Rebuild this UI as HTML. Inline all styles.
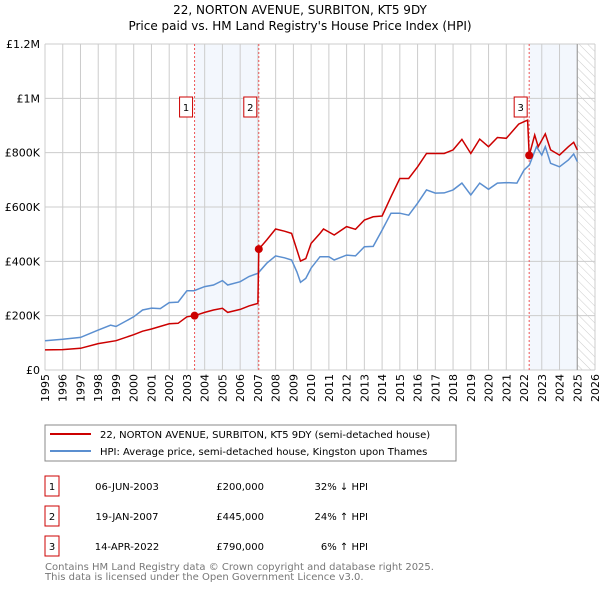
<!DOCTYPE html>
<html><head><meta charset="utf-8"><style>
body{margin:0;background:#fff;font-family:"DejaVu Sans","Liberation Sans",sans-serif}
svg text{font-family:"DejaVu Sans","Liberation Sans",sans-serif}
</style></head><body>
<svg id="c" width="600" height="590" xmlns="http://www.w3.org/2000/svg">
<defs><pattern id="hatch" width="6" height="6" patternUnits="userSpaceOnUse" patternTransform="rotate(-45)"><line x1="0" y1="0" x2="0" y2="6" stroke="#ccc" stroke-width="1"/></pattern></defs>
<text x="300" y="14" text-anchor="middle" font-size="12">22, NORTON AVENUE, SURBITON, KT5 9DY</text>
<text x="300" y="30" text-anchor="middle" font-size="12">Price paid vs. HM Land Registry's House Price Index (HPI)</text>
<g id="bg"></g><g id="grid"></g><g id="series"></g><g id="axes"></g>
<rect x="45" y="425" width="411" height="36" fill="#fff" stroke="#888"/>
<line x1="50" y1="434" x2="91" y2="434" stroke="#cc0000" stroke-width="2"/>
<text x="100" y="438" font-size="10">22, NORTON AVENUE, SURBITON, KT5 9DY (semi-detached house)</text>
<line x1="50" y1="451" x2="91" y2="451" stroke="#5b8fd0" stroke-width="2"/>
<text x="100" y="455" font-size="10">HPI: Average price, semi-detached house, Kingston upon Thames</text>
<g id="table" font-size="10"></g>
<text x="45" y="570" font-size="10" fill="#777">Contains HM Land Registry data © Crown copyright and database right 2025.</text>
<text x="45" y="580" font-size="10" fill="#777">This data is licensed under the Open Government Licence v3.0.</text>
</svg>
<script>
const hpiYears=[1995,1996,1997,1998,1998.7,1999,2000,2000.5,2001,2001.5,2002,2002.5,2003,2003.4,2004,2004.5,2005,2005.3,2006,2006.5,2007,2007.5,2008,2008.5,2008.9,2009.2,2009.4,2009.7,2010,2010.5,2011,2011.3,2012,2012.5,2013,2013.5,2014,2014.5,2015,2015.5,2016,2016.5,2017,2017.5,2018,2018.5,2019,2019.5,2020,2020.5,2021,2021.6,2022,2022.3,2022.7,2023,2023.2,2023.5,2024,2024.5,2024.8,2025];
const hpiValues=[108,113,120,147,165,160,196,221,228,226,248,250,292,292,307,313,329,313,325,344,356,393,420,413,405,361,323,337,375,417,417,405,423,420,454,455,515,577,577,570,614,663,651,652,663,688,644,688,665,688,690,688,736,755,822,791,822,761,748,773,795,767];
const priceYears=[1995,1996,1997,1998,1999,2000,2000.5,2001,2002,2002.5,2003,2003.43,2004,2004.5,2005,2005.3,2006,2006.5,2007,2007.05,2007.5,2008,2008.5,2008.9,2009.2,2009.4,2009.7,2010,2010.5,2010.7,2011.3,2012,2012.5,2013,2013.5,2014,2014.5,2015,2015.5,2016,2016.5,2017,2017.5,2018,2018.5,2019,2019.5,2020,2020.5,2021,2021.7,2022,2022.2,2022.29,2022.6,2022.8,2023.2,2023.5,2024,2024.5,2024.8,2025];
const priceValues=[74,75,80,97,108,130,143,151,170,172,196,200,212,221,227,212,223,236,245,445,479,519,511,503,442,401,410,466,503,519,497,528,518,552,564,567,638,705,705,748,797,797,797,810,849,797,850,822,856,853,905,914,920,790,865,822,869,810,791,822,838,810];
const saleYears=[2003.43,2007.05,2022.29];
const saleValues=[200,445,790];
const saleLabels=["1","2","3"];
const saleDates=["06-JUN-2003","19-JAN-2007","14-APR-2022"];
const salePrices=["£200,000","£445,000","£790,000"];
const saleDiffs=["32% ↓ HPI","24% ↑ HPI","6% ↑ HPI"];
const yTicks=[0,200,400,600,800,1000,1200];
const yTickLabels=["£0","£200K","£400K","£600K","£800K","£1M","£1.2M"];
const xTicks=[];for(let y=1995;y<=2026;y++)xTicks.push(y);
const NS="http://www.w3.org/2000/svg";
const X0=45,X1=595,Y0=370,Y1=44;
const sx=v=>X0+(v-1995)/(2026-1995)*(X1-X0);
const sy=v=>Y0-v/1200*(Y0-Y1);
function mk(tag,attrs,parent){const e=document.createElementNS(NS,tag);for(const k in attrs)e.setAttribute(k,attrs[k]);parent.appendChild(e);return e;}
const bg=document.getElementById('bg'),grid=document.getElementById('grid'),ser=document.getElementById('series'),ax=document.getElementById('axes'),tb=document.getElementById('table');
let r=mk('rect',{x:sx(saleYears[0]),y:Y1,width:sx(saleYears[1])-sx(saleYears[0]),height:Y0-Y1,fill:'#eef3fc',opacity:0.7},bg);


r=mk('rect',{x:sx(saleYears[2]),y:Y1,width:sx(2025)-sx(saleYears[2]),height:Y0-Y1,fill:'#eef3fc',opacity:0.7},bg);


r=mk('rect',{x:sx(2025),y:Y1,width:X1-sx(2025),height:Y0-Y1,fill:'url(#hatch)'},bg);


xTicks.forEach(t=>{const l=mk('line',{x1:sx(t),x2:sx(t),y1:Y1,y2:Y0,stroke:'#ccc'},grid);


const tx=mk('text',{x:0,y:0,'font-size':11,'text-anchor':'end',transform:`translate(${sx(t)+4},${Y0+4}) rotate(-90)`},ax);tx.textContent=t;

});
yTicks.forEach((t,i)=>{const l=mk('line',{x1:X0,x2:X1,y1:sy(t),y2:sy(t),stroke:'#ccc'},grid);


const tx=mk('text',{x:40,y:sy(t)+4,'font-size':11,'text-anchor':'end'},ax);tx.textContent=yTickLabels[i];

});
let l=mk('line',{x1:sx(2025),x2:sx(2025),y1:Y1,y2:Y0,stroke:'#999'},grid);


saleYears.forEach((y,i)=>{const v=mk('line',{x1:sx(y),x2:sx(y),y1:Y1,y2:Y0,stroke:'#e55','stroke-dasharray':'2,2'},grid);


const b=mk('rect',{x:sx(y)-15,y:97,width:13,height:20,fill:'#fff',stroke:'#c00'},ax);


const t=mk('text',{x:sx(y)-8.5,y:111,'font-size':10,'text-anchor':'middle'},ax);t.textContent=saleLabels[i];

});
const path=(xs,vs)=>xs.map((x,i)=>(i?'L':'M')+sx(x).toFixed(1)+','+sy(vs[i]).toFixed(1)).join('');
let p=mk('path',{d:path(hpiYears,hpiValues),fill:'none',stroke:'#5b8fd0','stroke-width':1.5},ser);


p=mk('path',{d:path(priceYears,priceValues),fill:'none',stroke:'#cc0000','stroke-width':1.5},ser);


saleYears.forEach((y,i)=>{const c=mk('circle',{cx:sx(y),cy:sy(saleValues[i]),r:4,fill:'#cc0000'},ser);


const ry=486+i*30;
const b=mk('rect',{x:45,y:ry-10,width:14,height:20,fill:'#fff',stroke:'#c00'},tb);


const cells=[[52,saleLabels[i],'middle'],[127,saleDates[i],'middle'],[264,salePrices[i],'end'],[368,saleDiffs[i],'end']];
cells.forEach(c2=>{const t=mk('text',{x:c2[0],y:ry+4,'text-anchor':c2[2]},tb);t.textContent=c2[1];

});});
</script>
</body></html>
